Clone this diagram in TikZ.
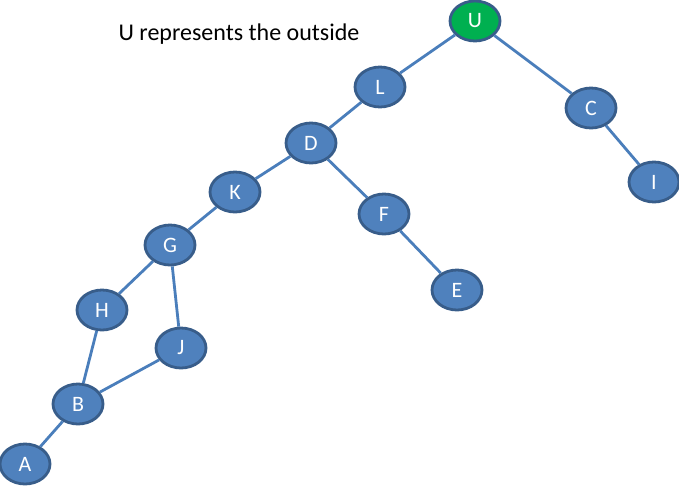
\documentclass[tikz,border=0pt]{standalone}
\usepackage{fontspec}
\setmainfont{Carlito}
\usepackage{tikz}
\usetikzlibrary{shapes.geometric}
\definecolor{nodeblue}{RGB}{79,129,189}
\definecolor{rimblue}{RGB}{56,93,138}
\definecolor{edgeblue}{RGB}{74,126,187}
\definecolor{outgreen}{RGB}{0,176,80}

\begin{document}
\begin{tikzpicture}[x=1pt,y=-1pt,
  room/.style={ellipse,draw=rimblue,fill=nodeblue,line width=2.8pt,minimum width=50pt,minimum height=40pt,inner sep=0pt,text=white,font=\fontsize{22}{22}\selectfont},
  door/.style={edgeblue,line width=2.8pt}]
  \useasboundingbox (0,0) rectangle (679,491);
  \node[font=\fontsize{24}{24}\selectfont] (note) at (239,34) {U represents the outside};
  \node[room,fill=outgreen] (U) at (475,21) {U};
  \node[room] (L) at (380,87) {L};
  \node[room] (C) at (591,108) {C};
  \node[room] (D) at (311,143) {D};
  \node[room] (I) at (654,182) {I};
  \node[room] (K) at (235,192) {K};
  \node[room] (F) at (384,214) {F};
  \node[room] (G) at (170,245) {G};
  \node[room] (E) at (457,290) {E};
  \node[room] (H) at (102,310) {H};
  \node[room] (J) at (181,348) {J};
  \node[room] (B) at (78,404) {B};
  \node[room] (A) at (25,464) {A};
  \draw[door] (U)--(L); \draw[door] (U)--(C); \draw[door] (C)--(I);
  \draw[door] (L)--(D); \draw[door] (D)--(K); \draw[door] (D)--(F);
  \draw[door] (F)--(E); \draw[door] (K)--(G); \draw[door] (G)--(H);
  \draw[door] (G)--(J); \draw[door] (H)--(B); \draw[door] (J)--(B);
  \draw[door] (B)--(A);
\end{tikzpicture}
\end{document}
